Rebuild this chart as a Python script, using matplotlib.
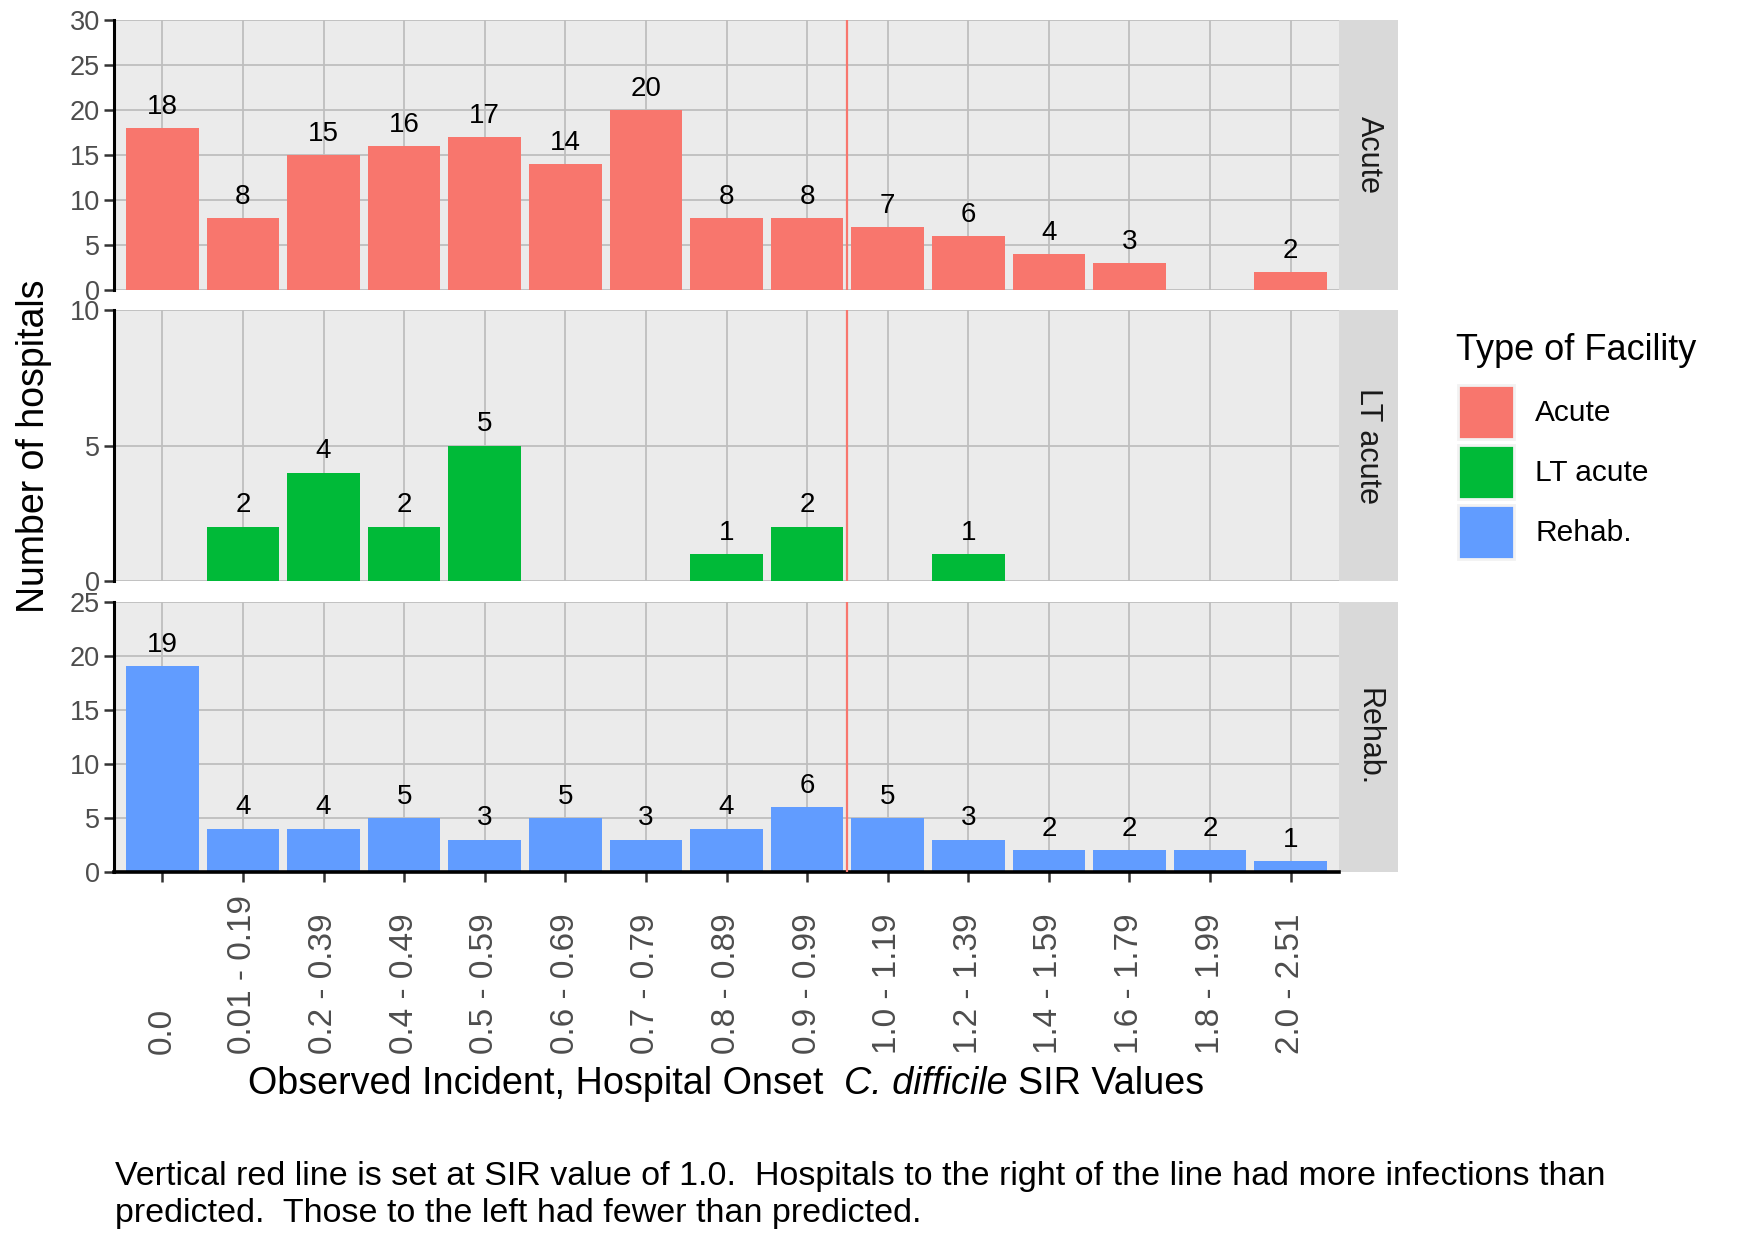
import matplotlib
matplotlib.use("Agg")
import matplotlib.pyplot as plt
from matplotlib.patches import Rectangle, Patch
import numpy as np

plt.rcParams['font.family'] = ['Liberation Sans', 'DejaVu Sans']

categories = ["0.0", "0.01 - 0.19", "0.2 - 0.39", "0.4 - 0.49", "0.5 - 0.59",
              "0.6 - 0.69", "0.7 - 0.79", "0.8 - 0.89", "0.9 - 0.99", "1.0 - 1.19",
              "1.2 - 1.39", "1.4 - 1.59", "1.6 - 1.79", "1.8 - 1.99", "2.0 - 2.51"]
acute = [18, 8, 15, 16, 17, 14, 20, 8, 8, 7, 6, 4, 3, 0, 2]
lt_acute = [0, 2, 4, 2, 5, 0, 0, 1, 2, 0, 1, 0, 0, 0, 0]
rehab = [19, 4, 4, 5, 3, 5, 3, 4, 6, 5, 3, 2, 2, 2, 1]
facets = ["Acute", "LT acute", "Rehab."]
series = [acute, lt_acute, rehab]
colors = ["#F8766D", "#00BA38", "#619CFF"]
ymax = [30, 10, 25]
yticks = [[0, 5, 10, 15, 20, 25, 30], [0, 5, 10], [0, 5, 10, 15, 20, 25]]
sir_line_pos = 8.5  # between "0.9 - 0.99" and "1.0 - 1.19"

W, H = 1750, 1250
fig = plt.figure(figsize=(W / 100, H / 100), dpi=100)

left = 114 / W
right = 1339 / W
panels_px = [(19.5, 290.5), (310, 581), (601.5, 872)]
strip_w_px = 59

x = np.arange(len(categories))
axes = []
for i, (t, b) in enumerate(panels_px):
    ax = fig.add_axes([left, 1 - b / H, right - left, (b - t) / H])
    axes.append(ax)
    ax.set_facecolor("#EBEBEB")
    ax.set_xlim(-0.6, len(categories) - 0.4)
    ax.set_ylim(0, ymax[i])
    ax.set_yticks(yticks[i])
    ax.set_xticks(x)
    ax.grid(True, color="#BEBEBE", linewidth=1.3, zorder=0)
    ax.set_axisbelow(True)
    for s in ["top", "right", "bottom"]:
        ax.spines[s].set_visible(False)
    ax.spines["left"].set_color("black")
    ax.spines["left"].set_linewidth(2.2)
    ax.tick_params(axis="y", length=7, width=1.8, color="#333333",
                   labelsize=19.5, labelcolor="#4D4D4D", pad=3)
    vals = np.array(series[i])
    bars = ax.bar(x, vals, width=0.9, color=colors[i], zorder=2)
    labels = [str(v) if v > 0 else "" for v in vals]
    ax.bar_label(bars, labels=labels, padding=6, fontsize=20, color="black")
    ax.axvline(sir_line_pos, color="#F8766D", linewidth=1.6, zorder=3)
    # facet strip
    axw = (right - left) * W
    ax.add_patch(Rectangle((1.0, 0.0), strip_w_px / axw, 1.0, transform=ax.transAxes,
                           facecolor="#D9D9D9", edgecolor="none", clip_on=False))
    ax.text(1.0 + strip_w_px / axw / 2, 0.5, facets[i], transform=ax.transAxes,
            rotation=-90, ha="center", va="center", fontsize=22, color="#1A1A1A")
    if i < 2:
        ax.tick_params(axis="x", length=0, labelbottom=False)
    else:
        ax.spines["bottom"].set_visible(True)
        ax.spines["bottom"].set_color("black")
        ax.spines["bottom"].set_linewidth(2.6)
        ax.set_xticklabels(categories)
        ax.tick_params(axis="x", length=7.2, width=1.8, color="#333333",
                       labelsize=24, labelcolor="#4D4D4D", pad=123.5)
        for lbl in ax.get_xticklabels():
            lbl.set_rotation(90)
            lbl.set_va("bottom")
            lbl.set_ha("center")

# y axis title
fig.text(34 / W, 1 - 446 / H, "Number of hospitals", rotation=90,
         ha="center", va="center", fontsize=27, color="black")

# x axis title with italic species name, assembled from pieces
fig.canvas.draw()
rend = fig.canvas.get_renderer()
xfs = 27.2


def text_w(s, style="normal"):
    t = fig.text(0, 0, s, fontsize=xfs, style=style)
    w = t.get_window_extent(rend).width
    t.remove()
    return w


space_w = text_w("x x") - text_w("xx")
parts = [("Observed Incident, Hospital Onset", "normal", 2),
         ("C. difficile", "italic", 1),
         ("SIR Values", "normal", 0)]
widths = [text_w(p[0], p[1]) for p in parts]
total = sum(widths) + space_w * sum(p[2] for p in parts)
cx = 726
xpos = cx - total / 2
for (s, style, nsp), w in zip(parts, widths):
    fig.text(xpos / W, 1 - 1094 / H, s, fontsize=xfs, style=style,
             ha="left", va="baseline", color="black")
    xpos += w + nsp * space_w

# caption
fig.text(115 / W, 1 - 1185 / H,
         "Vertical red line is set at SIR value of 1.0.  Hospitals to the right of the line had more infections than",
         ha="left", va="baseline", fontsize=24.5, color="black")
fig.text(115 / W, 1 - 1222 / H,
         "predicted.  Those to the left had fewer than predicted.",
         ha="left", va="baseline", fontsize=24.5, color="black")

# legend
fig.text(1456 / W, 1 - 360 / H, "Type of Facility", fontsize=26,
         ha="left", va="baseline", color="black")
handles = [Patch(facecolor=c, edgecolor="#F2F2F2", linewidth=2) for c in colors]
leg = fig.legend(handles, facets, loc="upper left",
                 bbox_to_anchor=(1458 / W, 1 - 385 / H), frameon=False,
                 fontsize=21.5, handlelength=1.87, handleheight=2.4,
                 labelspacing=0.2, handletextpad=0.72,
                 borderaxespad=0, borderpad=0)

fig.savefig("out.png", dpi=100, facecolor="white")
